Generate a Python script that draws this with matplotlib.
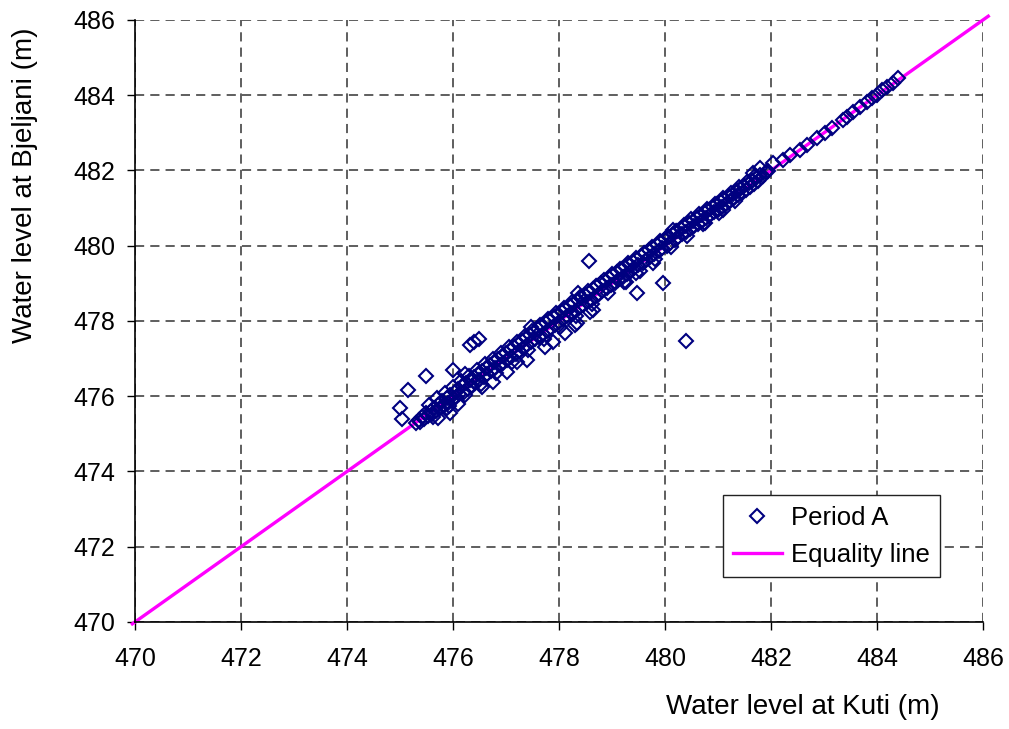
import matplotlib
matplotlib.use("Agg")
import matplotlib.pyplot as plt

# dense band of observations (Kuti, Bjeljani)
kuti_band = [
    475.30, 475.35, 475.38, 475.42, 475.45, 475.50, 475.52, 475.58, 475.60, 475.65,
    475.68, 475.72, 475.75, 475.80, 475.82, 475.88, 475.90, 475.95, 475.98, 476.03,
    476.05, 476.10, 476.12, 476.17, 476.20, 476.25, 476.28, 476.32, 476.35, 476.40,
    476.42, 476.47, 476.50, 476.55, 476.58, 476.62, 476.65, 476.70, 476.72, 476.78,
    476.80, 476.85, 476.88, 476.92, 476.95, 477.00, 477.02, 477.08, 477.10, 477.15,
    477.18, 477.22, 477.25, 477.30, 477.33, 477.38, 477.40, 477.45, 477.48, 477.52,
    477.55, 477.60, 477.62, 477.68, 477.70, 477.75, 477.78, 477.82, 477.85, 477.90,
    477.92, 477.98, 478.00, 478.05, 478.08, 478.12, 478.15, 478.20, 478.22, 478.28,
    478.30, 478.35, 478.38, 478.42, 478.45, 478.50, 478.52, 478.58, 478.60, 478.65,
    478.68, 478.72, 478.75, 478.80, 478.82, 478.88, 478.90, 478.95, 478.98, 479.02,
    479.05, 479.10, 479.12, 479.18, 479.20, 479.25, 479.28, 479.32, 479.35, 479.40,
    479.42, 479.48, 479.50, 479.55, 479.58, 479.62, 479.65, 479.70, 479.72, 479.78,
    479.80, 479.85, 479.88, 479.92, 479.95, 480.00, 480.03, 480.08, 480.10, 480.15,
    480.18, 480.22, 480.25, 480.30, 480.33, 480.38, 480.40, 480.45, 480.48, 480.52,
    480.55, 480.60, 480.63, 480.68, 480.70, 480.75, 480.78, 480.82, 480.85, 480.90,
    480.93, 480.98, 481.00, 481.05, 481.08, 481.12, 481.15, 481.20, 481.23, 481.28,
    481.30, 481.35, 481.38, 481.42, 481.45, 481.50, 481.53, 481.58, 481.60, 481.65,
    481.68, 481.72, 481.75, 481.80, 481.85, 481.90, 481.95,
]
bjeljani_band = [
    475.30, 475.38, 475.32, 475.45, 475.40, 475.55, 475.47, 475.62, 475.52, 475.70,
    475.60, 475.78, 475.68, 475.86, 475.74, 475.95, 475.82, 476.02, 475.90, 476.12,
    475.97, 476.20, 476.05, 476.28, 476.12, 476.36, 476.20, 476.44, 476.28, 476.52,
    476.35, 476.60, 476.44, 476.68, 476.52, 476.75, 476.58, 476.84, 476.66, 476.92,
    476.74, 477.00, 476.82, 477.08, 476.88, 477.15, 476.97, 477.24, 477.05, 477.32,
    477.12, 477.40, 477.20, 477.48, 477.28, 477.56, 477.36, 477.64, 477.44, 477.72,
    477.52, 477.80, 477.58, 477.88, 477.66, 477.95, 477.74, 478.02, 477.82, 478.10,
    477.90, 478.18, 477.97, 478.25, 478.05, 478.32, 478.12, 478.40, 478.20, 478.48,
    478.27, 478.55, 478.35, 478.62, 478.42, 478.70, 478.50, 478.78, 478.57, 478.85,
    478.65, 478.92, 478.72, 479.00, 478.80, 479.07, 478.87, 479.14, 478.95, 479.22,
    479.02, 479.30, 479.10, 479.37, 479.17, 479.44, 479.25, 479.52, 479.32, 479.58,
    479.40, 479.66, 479.48, 479.73, 479.55, 479.80, 479.62, 479.88, 479.70, 479.95,
    479.78, 480.02, 479.85, 480.10, 479.93, 480.17, 480.00, 480.24, 480.08, 480.31,
    480.15, 480.38, 480.22, 480.45, 480.30, 480.52, 480.37, 480.60, 480.44, 480.66,
    480.52, 480.74, 480.59, 480.81, 480.66, 480.88, 480.74, 480.95, 480.81, 481.02,
    480.89, 481.10, 480.96, 481.17, 481.04, 481.24, 481.11, 481.31, 481.19, 481.38,
    481.26, 481.45, 481.34, 481.52, 481.41, 481.59, 481.49, 481.66, 481.56, 481.73,
    481.64, 481.80, 481.71, 481.87, 481.84, 481.95, 481.98,
]

# upper edge of the band
kuti_upper = [
    475.55, 475.70, 475.85, 476.00, 476.15, 476.30, 476.45, 476.60, 476.75, 476.90,
    477.05, 477.20, 477.35, 477.50, 477.65, 477.80, 477.95, 478.10, 478.25, 478.40,
    478.55, 478.70, 478.85, 479.00, 479.15, 479.30, 479.45, 479.60, 479.75, 479.90,
    480.05, 480.20, 480.35, 480.50, 480.65, 480.80, 480.95, 481.10, 481.25, 481.40,
    481.55, 481.70,
]
bjeljani_upper = [
    475.78, 475.95, 476.08, 476.25, 476.40, 476.55, 476.70, 476.86, 477.00, 477.14,
    477.30, 477.45, 477.60, 477.74, 477.90, 478.05, 478.20, 478.34, 478.50, 478.64,
    478.80, 478.94, 479.10, 479.24, 479.38, 479.53, 479.68, 479.82, 479.97, 480.12,
    480.27, 480.40, 480.55, 480.70, 480.84, 480.98, 481.12, 481.27, 481.41, 481.55,
    481.69, 481.84,
]

# lower edge of the band
kuti_lower = [
    475.62, 475.92, 476.22, 476.52, 476.82, 477.12, 477.42, 477.72, 478.02, 478.32,
    478.62, 478.92, 479.22, 479.52, 479.82, 480.12, 480.42, 480.72, 481.02, 481.32,
]
bjeljani_lower = [
    475.44, 475.74, 476.02, 476.33, 476.62, 476.92, 477.22, 477.52, 477.83, 478.12,
    478.44, 478.74, 479.03, 479.34, 479.64, 479.96, 480.27, 480.58, 480.88, 481.20,
]

# sparse high water levels
kuti_high = [
    481.79, 482.04, 482.23, 482.36, 482.55, 482.68, 482.87, 483.02, 483.15, 483.36,
    483.43, 483.55, 483.68, 483.81, 483.90, 484.00, 484.09, 484.19, 484.30, 484.40,
]
bjeljani_high = [
    482.06, 482.20, 482.28, 482.41, 482.54, 482.68, 482.86, 483.00, 483.13, 483.34,
    483.42, 483.55, 483.69, 483.82, 483.92, 484.00, 484.14, 484.22, 484.32, 484.46,
]

# scattered points off the band
kuti_scatter = [
    475.00, 475.04, 475.15, 475.49, 476.00, 476.23, 476.32, 476.40, 476.49, 477.47,
    476.75, 477.02, 477.40, 477.74, 477.89, 478.11, 478.34, 478.58, 475.72, 475.89,
    478.57, 479.96, 479.47, 479.77, 479.45, 479.26, 480.40, 478.64, 478.30, 476.55,
    477.20, 475.95, 476.10, 478.36, 480.15, 480.75, 481.09, 481.66,
]
bjeljani_scatter = [
    475.69, 475.39, 476.17, 476.54, 476.70, 476.59, 477.36, 477.44, 477.52, 477.84,
    476.38, 476.64, 476.96, 477.31, 477.44, 477.68, 477.95, 478.24, 475.42, 475.69,
    479.59, 479.01, 478.74, 479.54, 479.27, 479.04, 477.47, 478.29, 477.89, 476.25,
    476.90, 475.55, 475.80, 478.74, 480.42, 480.60, 480.95, 481.93,
]

equality = [469.95, 486.1]
ticks = [470, 472, 474, 476, 478, 480, 482, 484, 486]

kuti = kuti_band + kuti_upper + kuti_lower + kuti_high + kuti_scatter
bjeljani = bjeljani_band + bjeljani_upper + bjeljani_lower + bjeljani_high + bjeljani_scatter

plt.rcParams['font.family'] = ['Liberation Sans', 'DejaVu Sans']

fig = plt.figure(figsize=(10.09, 7.29), dpi=100)
ax = fig.add_axes([0.1338, 0.1468, 0.8404, 0.8258])

line, = ax.plot(equality, equality, color='#FF00FF', lw=2.4, zorder=2,
                clip_on=False, label='Equality line')
pts, = ax.plot(kuti, bjeljani, linestyle='none', marker='D', markersize=7.5,
               markerfacecolor='none', markeredgecolor='#000080',
               markeredgewidth=1.5, zorder=3, label='Period A')

ax.set_xlim(470, 486)
ax.set_ylim(470, 486)
ax.set_xticks(ticks)
ax.set_yticks(ticks)
ax.tick_params(direction='out', length=6, width=1, labelsize=18, pad=12)
ax.tick_params(axis='y', pad=8)

ax.grid(True, color='#333333', linestyle=(0, (6, 4)), linewidth=1.1, zorder=0)
ax.set_axisbelow(True)
for side in ['top', 'right']:
    ax.spines[side].set_visible(False)
ax.spines['left'].set_linewidth(1.2)
ax.spines['bottom'].set_linewidth(1.2)

ax.set_xlabel('Water level at Kuti (m)', fontsize=20, va='center')
ax.set_ylabel('Water level at Bjeljani (m)', fontsize=20, va='center')
ax.xaxis.set_label_coords(0.788, -0.141)
ax.yaxis.set_label_coords(-0.130, 0.726)

leg = ax.legend([pts, line], ['Period A', 'Equality line'], loc='lower left',
                bbox_to_anchor=(0.693, 0.075), fontsize=18.5, frameon=True,
                fancybox=False, edgecolor='#222222', framealpha=1,
                handlelength=1.9, borderpad=0.4, labelspacing=0.5,
                handletextpad=0.35, borderaxespad=0)
leg.get_frame().set_linewidth(1.0)

fig.savefig('out.png', dpi=100)
